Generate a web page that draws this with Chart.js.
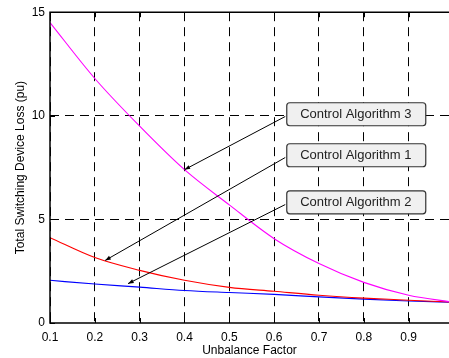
<!DOCTYPE html>
<html>
<head>
<meta charset="utf-8">
<script src="https://cdn.jsdelivr.net/npm/chart.js@4"></script>
<style>
  html, body { margin: 0; padding: 0; background: #fff; }
  #wrap { width: 449px; height: 358px; }
</style>
</head>
<body>
<div id="wrap"><canvas id="myChart"></canvas></div>
<script>
const unbalance = [0.1, 0.2, 0.3, 0.4, 0.5, 0.6, 0.7, 0.8, 0.9, 1.0];
const alg1 = [4.12, 3.16, 2.54, 2.06, 1.72, 1.53, 1.34, 1.2, 1.1, 1.0];
const alg2 = [2.06, 1.88, 1.73, 1.57, 1.47, 1.38, 1.26, 1.15, 1.06, 1.0];
const alg3 = [14.5, 11.8, 9.5, 7.4, 5.7, 4.07, 2.87, 1.96, 1.34, 1.0];
const xTicks = [0.1, 0.2, 0.3, 0.4, 0.5, 0.6, 0.7, 0.8, 0.9];
const yTicks = [0, 5, 10, 15];

// label boxes: anchor (data coords) of box left edge, and the curve point the arrow goes to
const notes = [
    { text: 'Control Algorithm 3', x: 0.627, y: 10.1, tx: 0.4, ty: 7.4 },
    { text: 'Control Algorithm 1', x: 0.627, y: 8.12, tx: 0.223, ty: 3.02 },
    { text: 'Control Algorithm 2', x: 0.627, y: 5.85, tx: 0.274, ty: 1.9 }
];

const pts = (ys) => unbalance.map((x, i) => ({ x: x, y: ys[i] }));

const font = 'Liberation Sans, Arial, sans-serif';

const notePlugin = {
    id: 'notes',
    afterDatasetsDraw(chart) {
        const ctx = chart.ctx;
        const xs = chart.scales.x, ys = chart.scales.y;
        const a = chart.chartArea;
        ctx.save();
        // solid frame (top + left + bottom)
        ctx.strokeStyle = '#000';
        ctx.lineWidth = 1.5;
        ctx.beginPath();
        ctx.moveTo(a.right, a.top);
        ctx.lineTo(a.left, a.top);
        ctx.lineTo(a.left, a.bottom);
        ctx.lineTo(a.right, a.bottom);
        ctx.stroke();
        // inward ticks
        ctx.lineWidth = 1;
        xTicks.forEach(v => {
            const px = Math.round(xs.getPixelForValue(v)) + 0.5;
            ctx.beginPath();
            ctx.moveTo(px, a.bottom); ctx.lineTo(px, a.bottom - 5);
            ctx.moveTo(px, a.top); ctx.lineTo(px, a.top + 5);
            ctx.stroke();
        });
        yTicks.forEach(v => {
            const py = Math.round(ys.getPixelForValue(v)) + 0.5;
            ctx.beginPath();
            ctx.moveTo(a.left, py); ctx.lineTo(a.left + 5, py);
            ctx.stroke();
        });

        // arrows and boxes
        notes.forEach(n => {
            const bx = xs.getPixelForValue(n.x);
            const by = ys.getPixelForValue(n.y);
            const w = 139, h = 23;
            const top = by - h / 2;
            const sx = bx - 1, sy = top + h * 0.62;
            const ex = xs.getPixelForValue(n.tx), ey = ys.getPixelForValue(n.ty);
            ctx.strokeStyle = '#000';
            ctx.lineWidth = 1;
            ctx.beginPath();
            ctx.moveTo(sx, sy);
            ctx.lineTo(ex, ey);
            ctx.stroke();
            const ang = Math.atan2(ey - sy, ex - sx);
            ctx.fillStyle = '#000';
            ctx.beginPath();
            ctx.moveTo(ex, ey);
            ctx.lineTo(ex - 6 * Math.cos(ang - 0.35), ey - 6 * Math.sin(ang - 0.35));
            ctx.lineTo(ex - 6 * Math.cos(ang + 0.35), ey - 6 * Math.sin(ang + 0.35));
            ctx.closePath();
            ctx.fill();

            ctx.fillStyle = '#f0f0f0';
            ctx.strokeStyle = '#333';
            ctx.lineWidth = 1.2;
            ctx.beginPath();
            ctx.roundRect(bx + 0.5, top + 0.5, w, h, 3);
            ctx.fill();
            ctx.stroke();
            ctx.fillStyle = '#222';
            ctx.font = '13px ' + font;
            ctx.textAlign = 'center';
            ctx.textBaseline = 'middle';
            ctx.fillText(n.text, bx + w / 2, top + h / 2 + 1);
        });
        ctx.restore();
    }
};

const ctx = document.getElementById('myChart').getContext('2d');
const myChart = new Chart(ctx, {
    type: 'line',
    data: {
        datasets: [
            { label: 'Control Algorithm 3', data: pts(alg3), borderColor: '#ff00ff' },
            { label: 'Control Algorithm 1', data: pts(alg1), borderColor: '#ff0000' },
            { label: 'Control Algorithm 2', data: pts(alg2), borderColor: '#0000ff' }
        ]
    },
    options: {
        responsive: true,
        maintainAspectRatio: false,
        animation: false,
        devicePixelRatio: 1,
        layout: { padding: { top: 10, right: 0, left: 0, bottom: 0 } },
        elements: {
            point: { radius: 0 },
            line: { borderWidth: 1.1, cubicInterpolationMode: 'monotone', fill: false }
        },
        plugins: {
            legend: { display: false },
            tooltip: { enabled: false }
        },
        scales: {
            x: {
                type: 'linear',
                min: 0.1,
                max: 0.99,
                afterBuildTicks: s => { s.ticks = xTicks.map(v => ({ value: v })); },
                afterFit: s => { s.height = 35; },
                ticks: {
                    color: '#000',
                    padding: 7,
                    maxRotation: 0,
                    autoSkip: false,
                    font: { family: font, size: 12 },
                    callback: v => v.toFixed(1)
                },
                grid: { color: '#000', lineWidth: 1, drawTicks: false },
                border: { display: false, dash: [9, 6] },
                title: {
                    display: true,
                    text: 'Unbalance Factor',
                    color: '#000',
                    padding: { top: 0, bottom: 0 },
                    font: { family: font, size: 12 }
                }
            },
            y: {
                min: 0,
                max: 15,
                afterBuildTicks: s => { s.ticks = yTicks.map(v => ({ value: v })); },
                afterFit: s => { s.width = 50; },
                ticks: {
                    color: '#000',
                    padding: 5,
                    font: { family: font, size: 12 }
                },
                grid: {
                    color: c => (c.tick && (c.tick.value === 0 || c.tick.value === 15)) ? 'rgba(0,0,0,0)' : '#000',
                    lineWidth: 1,
                    drawTicks: false
                },
                border: { display: false, dash: [9, 6] },
                title: {
                    display: true,
                    text: 'Total Switching Device Loss (pu)',
                    color: '#000',
                    padding: { top: 13, bottom: 0 },
                    font: { family: font, size: 12 }
                }
            }
        }
    },
    plugins: [notePlugin]
});
</script>
</body>
</html>
